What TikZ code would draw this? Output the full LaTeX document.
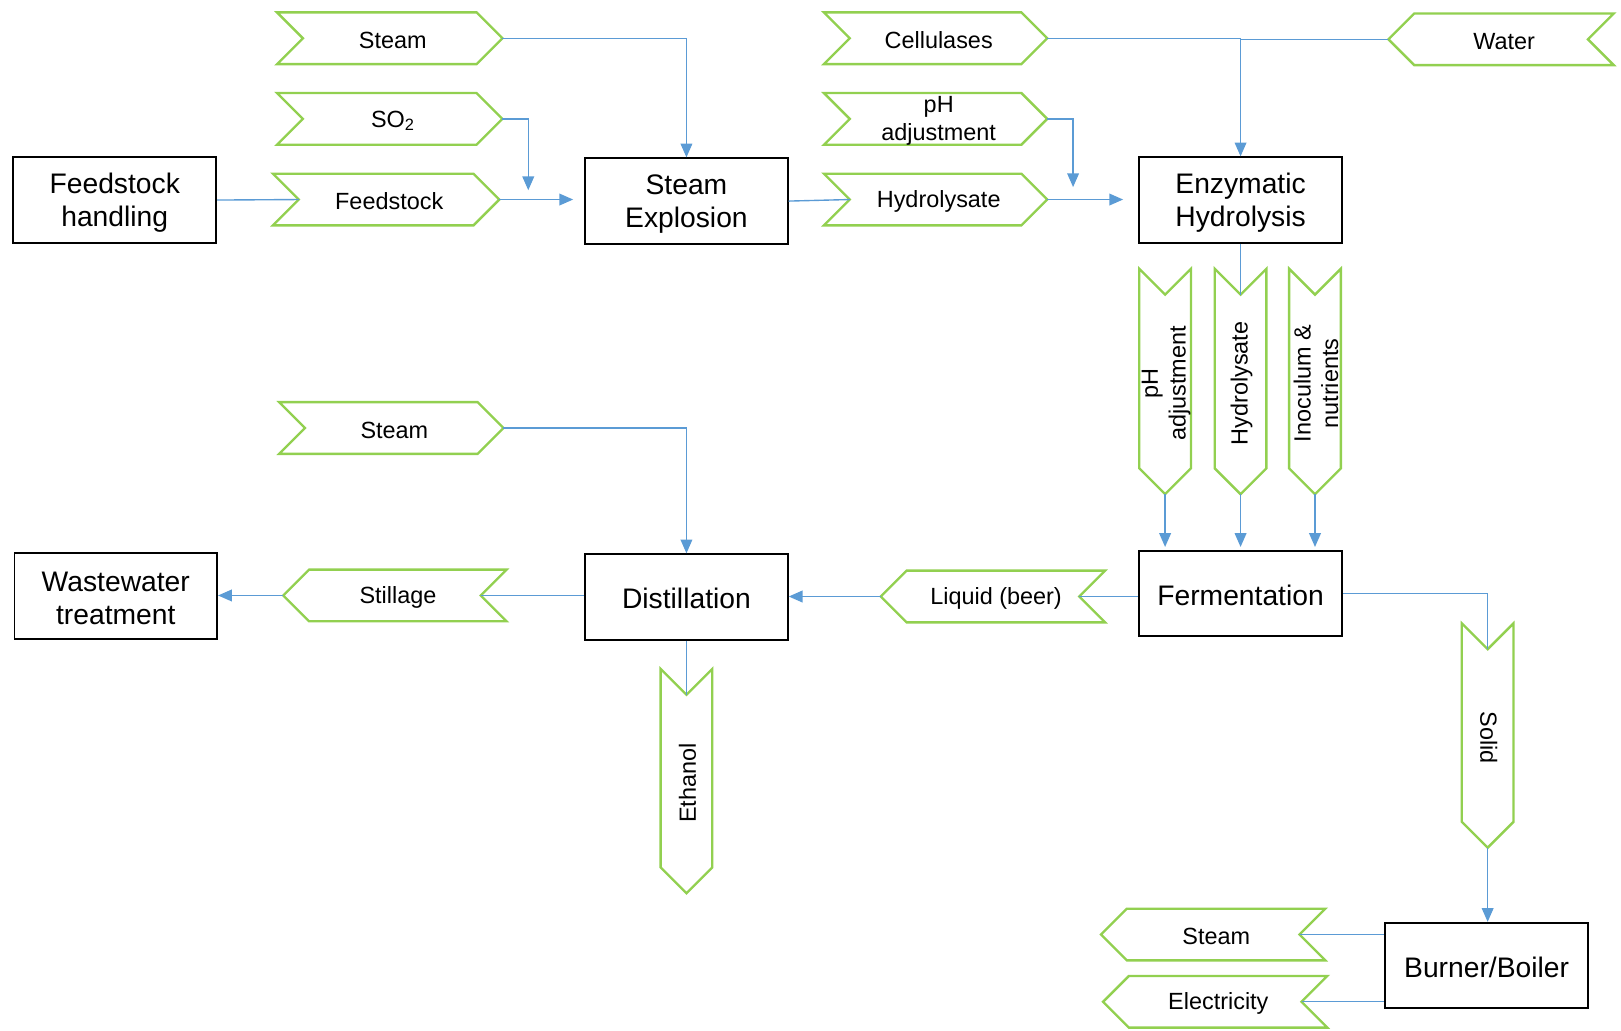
\documentclass[tikz,border=0pt]{standalone}
\usepackage{fontspec}
\setmainfont{Liberation Sans}
\usetikzlibrary{arrows.meta,calc}
\definecolor{chevgreen}{HTML}{92D050}
\definecolor{connblue}{HTML}{5B9BD5}
\tikzset{
  chev/.style={draw=chevgreen, line width=1.7pt, fill=white, line join=miter},
  ctext/.style={font=\fontsize{17}{20}\selectfont, align=center, inner sep=0pt},
  box/.style={draw=black, line width=1.4pt, minimum width=147pt, minimum height=62pt, align=center, font=\fontsize{20.5}{24}\selectfont, inner sep=2pt},
  btext/.style={font=\fontsize{20.5}{24}\selectfont, align=center, inner sep=0pt},
  conn/.style={draw=connblue, line width=1pt},
  arr/.style={conn, -{Triangle[length=10pt,width=8.5pt]}},
}
\newcommand{\chevR}[5]{%
  \draw[chev] ({#2},{#4-25}) -- ({#3-25},{#4-25}) -- ({#3},{#4}) -- ({#3-25},{#4+25}) -- ({#2},{#4+25}) -- ({#2+25},{#4}) -- cycle;
  \coordinate (#1-notch) at ({#2+25},{#4});
  \coordinate (#1-tip) at ({#3},{#4});
  \node[ctext] (#1) at ({(#2+#3)/2+3},{#4+2}) {#5};
}
\newcommand{\chevL}[5]{%
  \draw[chev] ({#2},{#4}) -- ({#2+25},{#4-25}) -- ({#3},{#4-25}) -- ({#3-25},{#4}) -- ({#3},{#4+25}) -- ({#2+25},{#4+25}) -- cycle;
  \coordinate (#1-notch) at ({#3-25},{#4});
  \coordinate (#1-tip) at ({#2},{#4});
  \node[ctext] (#1) at ({(#2+#3)/2+3},{#4+2}) {#5};
}
\newcommand{\chevD}[6]{%
  \draw[chev] ({#2-25},{#3}) -- ({#2},{#3+25}) -- ({#2+25},{#3}) -- ({#2+25},{#4-25}) -- ({#2},{#4}) -- ({#2-25},{#4-25}) -- cycle;
  \coordinate (#1-notch) at ({#2},{#3+25});
  \coordinate (#1-tip) at ({#2},{#4});
  \node[ctext, rotate=#6] (#1) at ({#2+1},{(#3+#4)/2+2}) {#5};
}
\begin{document}
\begin{tikzpicture}[x=0.75pt, y=-0.75pt]
\useasboundingbox (0,0) rectangle (1568,997);
% boxes
\node[box] (fh) at (111,193.5) {};
\node[box] (se) at (664,194.5) {};
\node[box] (eh) at (1200,193.5) {};
\node[box] (ferm) at (1200,574) {};
\node[box] (dist) at (664,577.5) {};
\node[box] (ww) at (112,576.5) {};
\node[box] (bb) at (1438,934) {};
\node[btext] (fht) at ($(fh.center)+(0,3)$) {Feedstock\\handling};
\node[btext] (set) at ($(se.center)+(0,3)$) {Steam\\Explosion};
\node[btext] (eht) at ($(eh.center)+(0,3)$) {Enzymatic\\Hydrolysis};
\node[btext] (fermt) at ($(ferm.center)+(0,2)$) {Fermentation};
\node[btext] (distt) at ($(dist.center)+(0,1)$) {Distillation};
\node[btext] (wwt) at ($(ww.center)+(0,2)$) {Wastewater\\treatment};
\node[btext] (bbt) at ($(bb.center)+(0,2)$) {Burner/Boiler};
% chevrons
\chevR{steamA}{268}{486}{37}{Steam}
\chevR{so2}{268}{486}{115}{SO\textsubscript{2}}
\chevR{feed}{264}{483}{193}{Feedstock}
\chevR{cell}{797}{1013}{37}{Cellulases}
\chevR{phA}{797}{1013}{115}{pH\\adjustment}
\chevR{hyd}{797}{1013}{193}{Hydrolysate}
\chevR{steamB}{270}{487}{414}{Steam}
\chevL{water}{1343}{1561}{38}{Water}
\chevL{liq}{852}{1069}{577}{Liquid (beer)}
\chevL{still}{274}{490}{576}{Stillage}
\chevL{steamC}{1065}{1282}{904}{Steam}
\chevL{elec}{1067}{1284}{969}{Electricity}
\chevD{phB}{1127}{260}{478}{pH\\adjustment}{90}
\chevD{hydB}{1200}{260}{478}{Hydrolysate}{90}
\chevD{inoc}{1272}{260}{478}{Inoculum \&\\nutrients}{90}
\chevD{eth}{664}{647}{864}{Ethanol}{90}
\chevD{solid}{1439}{603}{820}{Solid}{-90}
% free ends
\coordinate (so2end) at (511,184);
\coordinate (phend) at (1038,181);
% connectors
\draw[conn] (fh.east) -- (feed-notch);
\draw[arr, shorten >=8pt] (feed-tip) -- (feed-tip -| se.west);
\draw[arr] (steamA-tip) -| (se.north);
\draw[arr] (so2-tip) -| (so2end);
\draw[conn] (se.east) -- (hyd-notch);
\draw[arr, shorten >=11pt] (hyd-tip) -- (hyd-tip -| eh.west);
\draw[arr] (cell-tip) -| (eh.north);
\draw[conn] (water-tip) -- (water-tip -| eh.north);
\draw[arr] (phA-tip) -| (phend);
\draw[conn] (eh.south) -- (hydB-notch);
\draw[arr, shorten >=2pt] (phB-tip) -- (phB-tip |- ferm.north);
\draw[arr, shorten >=2pt] (hydB-tip) -- (hydB-tip |- ferm.north);
\draw[arr, shorten >=2pt] (inoc-tip) -- (inoc-tip |- ferm.north);
\draw[conn] (liq-notch) -- (liq-notch -| ferm.west);
\draw[arr] (liq-tip) -- (liq-tip -| dist.east);
\draw[arr] (steamB-tip) -| (dist.north);
\draw[conn] (still-notch) -- (still-notch -| dist.west);
\draw[arr] (still-tip) -- (still-tip -| ww.east);
\draw[conn] (dist.south) -- (eth-notch);
\draw[conn] (ferm.east) -| (solid-notch);
\draw[arr] (solid-tip) -- (solid-tip |- bb.north);
\draw[conn] (steamC-notch) -- (steamC-notch -| bb.west);
\draw[conn] (elec-notch) -- (elec-notch -| bb.west);
\end{tikzpicture}
\end{document}
